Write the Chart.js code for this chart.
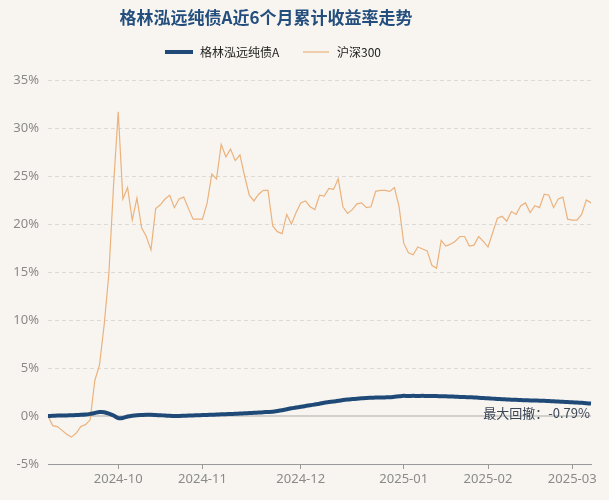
<!DOCTYPE html>
<html>
<head>
<meta charset="utf-8">
<script src="https://cdn.jsdelivr.net/npm/chart.js@4.4.1/dist/chart.umd.min.js"></script>
<style>
  html, body { margin: 0; padding: 0; background: #f8f5f0; }
  #wrap { width: 609px; height: 500px; }
</style>
</head>
<body>
<div id="wrap"><canvas id="chart" width="609" height="500"></canvas></div>
<script>
// trading days, last 6 months
var dates = [
  '2024-09-06','2024-09-09','2024-09-10','2024-09-11','2024-09-12','2024-09-13','2024-09-18','2024-09-19','2024-09-20','2024-09-23',
  '2024-09-24','2024-09-25','2024-09-26','2024-09-27','2024-09-30',
  '2024-10-08','2024-10-09','2024-10-10','2024-10-11','2024-10-14','2024-10-15','2024-10-16','2024-10-17','2024-10-18','2024-10-21',
  '2024-10-22','2024-10-23','2024-10-24','2024-10-25','2024-10-28','2024-10-29','2024-10-30','2024-10-31',
  '2024-11-01','2024-11-04','2024-11-05','2024-11-06','2024-11-07','2024-11-08','2024-11-11','2024-11-12','2024-11-13','2024-11-14',
  '2024-11-15','2024-11-18','2024-11-19','2024-11-20','2024-11-21','2024-11-22','2024-11-25','2024-11-26','2024-11-27','2024-11-28','2024-11-29',
  '2024-12-02','2024-12-03','2024-12-04','2024-12-05','2024-12-06','2024-12-09','2024-12-10','2024-12-11','2024-12-12','2024-12-13',
  '2024-12-16','2024-12-17','2024-12-18','2024-12-19','2024-12-20','2024-12-23','2024-12-24','2024-12-25','2024-12-26','2024-12-27',
  '2024-12-30','2024-12-31',
  '2025-01-02','2025-01-03','2025-01-06','2025-01-07','2025-01-08','2025-01-09','2025-01-10','2025-01-13','2025-01-14','2025-01-15',
  '2025-01-16','2025-01-17','2025-01-20','2025-01-21','2025-01-22','2025-01-23','2025-01-24','2025-01-27',
  '2025-02-05','2025-02-06','2025-02-07','2025-02-10','2025-02-11','2025-02-12','2025-02-13','2025-02-14','2025-02-17','2025-02-18',
  '2025-02-19','2025-02-20','2025-02-21','2025-02-24','2025-02-25','2025-02-26','2025-02-27','2025-02-28',
  '2025-03-03','2025-03-04','2025-03-05','2025-03-06','2025-03-07'
];

// 格林泓远纯债A cumulative return (%)
var fundValues = [
  0.00,0.02,0.04,0.05,0.06,0.08,0.10,0.12,0.15,0.22,
  0.32,0.42,0.40,0.25,0.05,-0.22,-0.20,-0.05,0.03,0.08,
  0.10,0.12,0.12,0.10,0.08,0.05,0.02,0.00,0.00,0.02,
  0.04,0.06,0.08,0.10,0.11,0.13,0.15,0.17,0.19,0.21,
  0.23,0.25,0.28,0.30,0.33,0.36,0.39,0.42,0.45,0.52,
  0.60,0.70,0.80,0.88,0.96,1.05,1.12,1.20,1.28,1.38,
  1.45,1.52,1.58,1.66,1.72,1.76,1.80,1.84,1.88,1.90,
  1.92,1.93,1.94,1.95,2.00,2.05,2.10,2.08,2.10,2.09,
  2.10,2.08,2.09,2.08,2.06,2.05,2.03,2.01,1.99,1.97,
  1.95,1.93,1.90,1.87,1.84,1.81,1.78,1.75,1.72,1.70,
  1.68,1.66,1.64,1.62,1.61,1.60,1.58,1.56,1.53,1.50,
  1.48,1.45,1.42,1.40,1.37,1.33,1.30
];

// 沪深300 cumulative return (%)
var csiValues = [
  0.0,-1.0,-1.1,-1.5,-1.9,-2.2,-1.8,-1.1,-0.9,-0.4,
  3.7,5.3,9.5,14.8,24.0,31.7,22.6,23.8,20.4,22.7,
  19.6,18.7,17.3,21.6,22.0,22.6,23.0,21.7,22.6,22.8,
  21.6,20.5,20.5,20.5,22.2,25.2,24.7,28.3,27.0,27.8,
  26.6,27.2,25.0,23.0,22.4,23.1,23.5,23.5,19.8,19.2,
  19.0,21.0,20.0,21.2,22.2,22.4,21.8,21.5,23.0,22.9,
  23.7,23.6,24.7,21.8,21.1,21.5,22.1,22.2,21.7,21.8,
  23.4,23.5,23.5,23.4,23.8,21.8,18.0,17.0,16.8,17.6,
  17.4,17.2,15.7,15.4,18.3,17.7,17.9,18.2,18.7,18.7,
  17.7,17.8,18.7,18.2,17.6,19.1,20.6,20.8,20.3,21.3,
  21.0,21.9,22.2,21.2,21.9,21.7,23.1,23.0,21.7,22.6,
  22.8,20.5,20.4,20.4,21.0,22.5,22.2
];

var seriesNames = ['格林泓远纯债A', '沪深300'];
var seriesColors = ['#1f4a78', '#ebb27d'];
var titleText = '格林泓远纯债A近6个月累计收益率走势';
var drawdownText = '最大回撤：-0.79%';

// first trading day of each month gets a tick
var monthTicks = [];
for (var i = 0; i < dates.length; i++) {
  if (i > 0 && dates[i].slice(0, 7) !== dates[i - 1].slice(0, 7)) monthTicks.push(i);
}

var cjk = '"Noto Sans CJK SC", "Noto Sans", sans-serif';

// background, title, legend and drawdown note
var decorPlugin = {
  id: 'decor',
  beforeDraw: function(chart) {
    var c = chart.ctx;
    c.save();
    c.fillStyle = '#f8f5f0';
    c.fillRect(0, 0, chart.width, chart.height);
    c.restore();
  },
  afterDraw: function(chart) {
    var c = chart.ctx;
    c.save();
    c.textBaseline = 'middle';
    c.textAlign = 'center';
    c.fillStyle = '#234e7d';
    c.font = 'bold 17px ' + cjk;
    c.fillText(titleText, 266, 18);

    // legend
    c.textAlign = 'left';
    c.font = '12px ' + cjk;
    c.lineCap = 'butt';
    c.strokeStyle = seriesColors[0];
    c.lineWidth = 4;
    c.beginPath(); c.moveTo(165, 52); c.lineTo(193, 52); c.stroke();
    c.fillStyle = '#222';
    c.fillText(seriesNames[0], 200, 52);
    c.strokeStyle = seriesColors[1];
    c.lineWidth = 1.2;
    c.beginPath(); c.moveTo(303, 52); c.lineTo(329, 52); c.stroke();
    c.fillText(seriesNames[1], 337, 52);

    // drawdown note
    var area = chart.chartArea;
    c.textAlign = 'right';
    c.font = '13px ' + cjk;
    c.fillStyle = '#3a4656';
    c.fillText(drawdownText, area.right - 1, chart.scales.y.getPixelForValue(0) - 3);
    c.restore();
  }
};

var ctx = document.getElementById('chart').getContext('2d');
new Chart(ctx, {
  type: 'line',
  data: {
    labels: dates,
    datasets: [
      {
        label: seriesNames[0],
        data: fundValues,
        borderColor: seriesColors[0],
        backgroundColor: seriesColors[0],
        borderWidth: 4,
        pointRadius: 0,
        tension: 0.2
      },
      {
        label: seriesNames[1],
        data: csiValues,
        borderColor: seriesColors[1],
        backgroundColor: seriesColors[1],
        borderWidth: 1.2,
        pointRadius: 0,
        tension: 0
      }
    ]
  },
  options: {
    responsive: false,
    animation: false,
    layout: { padding: { top: 80, right: 18, left: 0, bottom: 0 } },
    plugins: {
      legend: { display: false },
      title: { display: false },
      tooltip: { enabled: false }
    },
    scales: {
      x: {
        type: 'category',
        offset: false,
        afterBuildTicks: function(axis) {
          axis.ticks = monthTicks.map(function(i) { return { value: i }; });
        },
        afterFit: function(axis) { axis.height = 36; },
        ticks: {
          autoSkip: false,
          maxRotation: 0,
          padding: 2,
          color: '#8a8a8a',
          font: { size: 13, family: 'Noto Sans' },
          callback: function(value) { return dates[value].slice(0, 7); }
        },
        grid: { drawOnChartArea: false, drawTicks: true, tickLength: 5, tickColor: '#9a9a9a' },
        border: { display: true, color: '#9a9a9a', width: 1 }
      },
      y: {
        min: -5,
        max: 35,
        afterFit: function(axis) { axis.width = 48; },
        ticks: {
          stepSize: 5,
          padding: 9,
          color: '#8a8a8a',
          font: { size: 13, family: 'Noto Sans' },
          callback: function(v) { return v + '%'; }
        },
        grid: {
          drawTicks: false,
          color: function(c) {
            if (c.tick && c.tick.value === 0) return '#d2d0cc';
            if (c.tick && c.tick.value === -5) return 'rgba(0,0,0,0)';
            return '#dcdad6';
          },
          lineWidth: function(c) { return c.tick && c.tick.value === 0 ? 2 : 1; }
        },
        border: {
          display: false,
          dash: function(c) { return c.tick && c.tick.value === 0 ? [] : [4, 3]; }
        }
      }
    }
  },
  plugins: [decorPlugin]
});
</script>
</body>
</html>
